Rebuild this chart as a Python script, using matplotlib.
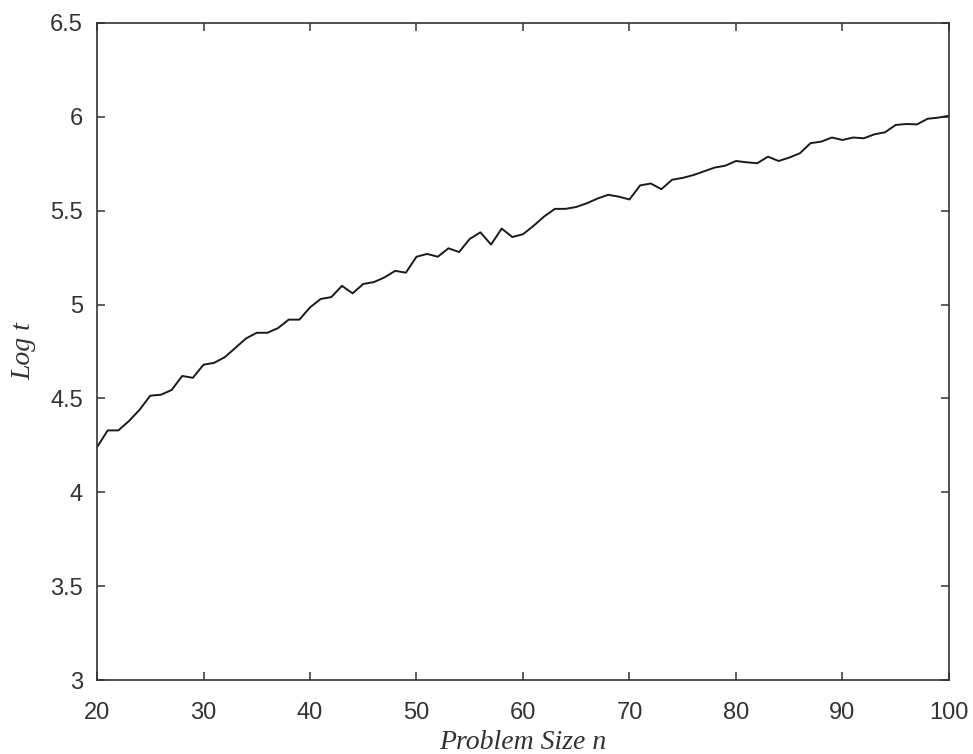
import numpy as np
import matplotlib
matplotlib.use("Agg")
import matplotlib.pyplot as plt

n = list(range(20, 101))
log_t = [4.24, 4.33, 4.33, 4.38, 4.44, 4.515, 4.52, 4.545, 4.62, 4.61,
         4.68, 4.69, 4.72, 4.77, 4.82, 4.85, 4.85, 4.875, 4.92, 4.92,
         4.985, 5.03, 5.04, 5.10, 5.06, 5.11, 5.12, 5.145, 5.18, 5.17,
         5.255, 5.27, 5.255, 5.30, 5.28, 5.35, 5.385, 5.32, 5.405, 5.36,
         5.375, 5.42, 5.47, 5.51, 5.51, 5.52, 5.54, 5.565, 5.585, 5.575,
         5.56, 5.635, 5.645, 5.615, 5.665, 5.675, 5.69, 5.71, 5.73, 5.74,
         5.765, 5.758, 5.753, 5.788, 5.765, 5.783, 5.806, 5.86, 5.868, 5.89,
         5.877, 5.89, 5.886, 5.907, 5.918, 5.957, 5.962, 5.96, 5.99, 5.996,
         6.006]

xticks = [20, 30, 40, 50, 60, 70, 80, 90, 100]
yticks = [3, 3.5, 4, 4.5, 5, 5.5, 6, 6.5]
ytick_labels = ["3", "3.5", "4", "4.5", "5", "5.5", "6", "6.5"]

fig = plt.figure(figsize=(9.73, 7.54), dpi=100)
ax = fig.add_axes([0.0997, 0.098, 0.8756, 0.8715])

ax.plot(n, log_t, color="#1a1a1a", linewidth=1.4)

ax.set_xlim(20, 100)
ax.set_ylim(3, 6.5)
ax.set_xticks(xticks)
ax.set_yticks(yticks)
ax.set_yticklabels(ytick_labels)
ax.tick_params(direction="in", top=True, right=True, length=6, width=1.1,
               labelsize=17, labelcolor="#333333", color="#333333")
ax.tick_params(axis="x", pad=16)
ax.tick_params(axis="y", pad=10)
for tl in ax.get_xticklabels() + ax.get_yticklabels():
    tl.set_family("Liberation Sans")
for s in ax.spines.values():
    s.set_linewidth(1.2)
    s.set_color("#333333")

ax.set_xlabel("Problem Size n", fontsize=20, style="italic",
              family="Liberation Serif", color="#333333", labelpad=4)
ax.set_ylabel("Log t", fontsize=20, style="italic",
              family="Liberation Serif", color="#333333", labelpad=10)

fig.savefig("out.png", dpi=100)
